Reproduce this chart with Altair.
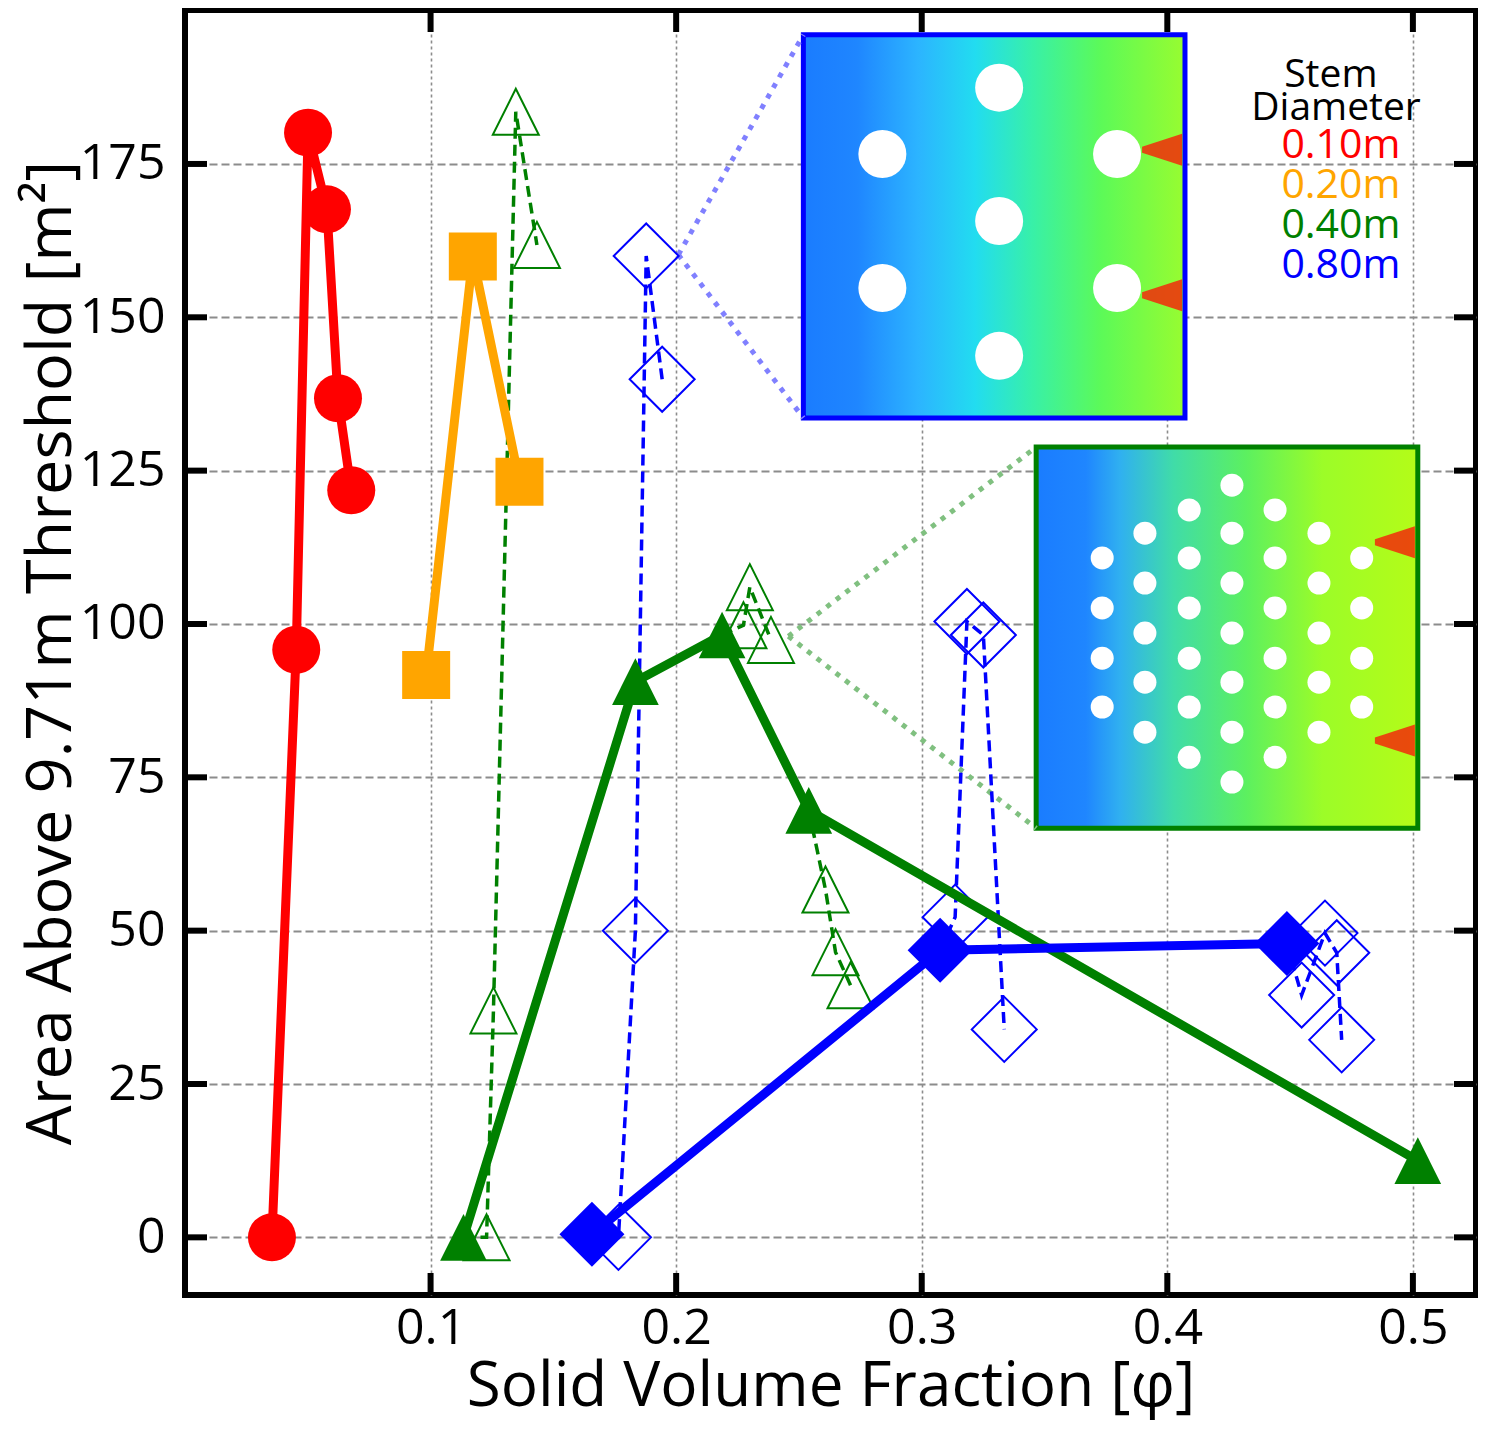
import altair as alt
import pandas as pd

# ---------------- axes ----------------
x_ticks = [0.1, 0.2, 0.3, 0.4, 0.5]
y_ticks = [0, 25, 50, 75, 100, 125, 150, 175]
X_DOMAIN = [0.0, 0.5257]
Y_DOMAIN = [-9.4, 200.1]

diameters = ["0.10m", "0.20m", "0.40m", "0.80m"]
colors = ["#ff0000", "#ffa500", "#008000", "#0000ff"]

# ---------------- main (filled) series ----------------
red_x = [0.0354, 0.0453, 0.0501, 0.0578, 0.0623, 0.0677]
red_y = [0.0, 95.8, 180.1, 167.6, 136.8, 121.8]
orange_x = [0.0982, 0.1172, 0.1362]
orange_y = [91.7, 159.9, 123.2]
green_x = [0.1134, 0.1834, 0.2187, 0.2540, 0.5020]
green_y = [0.0, 90.6, 98.2, 69.6, 12.5]
blue_x = [0.1657, 0.3075, 0.4487]
blue_y = [0.5, 46.8, 47.9]

# ---------------- variants (open markers, dashed) ----------------
green_var_group = [0, 0, 0, 0, 1, 1, 1, 2, 2, 2]
green_var_x = [0.1228, 0.1256, 0.1347, 0.1433, 0.2274, 0.2300, 0.2386, 0.2608, 0.2649, 0.2710]
green_var_y = [0.0, 37.0, 183.5, 161.8, 99.8, 106.0, 97.4, 56.7, 46.5, 41.1]
green_anchor_idx = [0, 2, 3]

blue_var_group = [0, 0, 0, 0, 1, 1, 1, 1, 2, 2, 2, 2]
blue_var_x = [0.1765, 0.1834, 0.1878, 0.1943, 0.3136, 0.3184, 0.3251, 0.3336, 0.4547, 0.4642, 0.4690, 0.4710]
blue_var_y = [0.0, 50.0, 160.0, 139.9, 52.2, 100.4, 98.2, 33.9, 39.5, 49.6, 46.4, 32.2]
blue_anchor_idx = [0, 1, 2]

# ---------------- inset pictures (approximation) ----------------
blue_inset_x = [0.2518, 0.4072]
blue_inset_y = [133.6, 196.05]
green_inset_x = [0.3466, 0.5020]
green_inset_y = [66.7, 128.85]
blue_stem_fx = [0.513, 0.207, 0.822, 0.513, 0.207, 0.822, 0.513]
blue_stem_fy = [0.138, 0.311, 0.311, 0.486, 0.661, 0.661, 0.838]
blue_wake_fx = [0.94, 0.94]
blue_wake_fy = [0.30, 0.68]
green_col_fx = [0.173, 0.285, 0.401, 0.513, 0.626, 0.741, 0.853]
green_row_fy = [0.100, 0.165, 0.226, 0.291, 0.357, 0.422, 0.488, 0.554, 0.617, 0.682, 0.748, 0.814, 0.879]
green_stem_col = [0, 0, 0, 0, 1, 1, 1, 1, 1, 2, 2, 2, 2, 2, 2, 3, 3, 3, 3, 3, 3, 3,
                  4, 4, 4, 4, 4, 4, 5, 5, 5, 5, 5, 6, 6, 6, 6]
green_stem_row = [3, 5, 7, 9, 2, 4, 6, 8, 10, 1, 3, 5, 7, 9, 11, 0, 2, 4, 6, 8, 10, 12,
                  1, 3, 5, 7, 9, 11, 2, 4, 6, 8, 10, 3, 5, 7, 9]
green_wake_fx = [0.94, 0.94]
green_wake_fy = [0.25, 0.77]

# dotted connectors: point on the data -> inset corners
blue_conn_start = (0.2009, 160.2)
green_conn_start = (0.2457, 98.0)

legend_head = ["Stem", "Diameter"]
legend_head_x = [0.4666, 0.4687]
legend_head_y = [187.6, 182.2]
legend_val_x = 0.4707
legend_val_y = [176.0, 169.5, 162.9, 156.4]

# ---------------- build tables ----------------
solid_rows = []
for d, (sx, sy) in zip(diameters, [(red_x, red_y), (orange_x, orange_y),
                                   (green_x, green_y), (blue_x, blue_y)]):
    for a, b in zip(sx, sy):
        solid_rows.append({"d": d, "x": a, "y": b})
solid = pd.DataFrame(solid_rows)

dash_rows, open_rows = [], []
for d, bx, by, anchors, grp, vx, vy in [
        ("0.40m", green_x, green_y, green_anchor_idx, green_var_group, green_var_x, green_var_y),
        ("0.80m", blue_x, blue_y, blue_anchor_idx, blue_var_group, blue_var_x, blue_var_y)]:
    for g, ai in enumerate(anchors):
        dash_rows.append({"d": d, "g": f"{d}-{g}", "x": bx[ai], "y": by[ai]})
    for g, a, b in zip(grp, vx, vy):
        dash_rows.append({"d": d, "g": f"{d}-{g}", "x": a, "y": b})
        open_rows.append({"d": d, "x": a, "y": b})
dashed = pd.DataFrame(dash_rows)
opened = pd.DataFrame(open_rows)

W, H = 1291, 1285
xs = alt.Scale(domain=X_DOMAIN, nice=False, zero=False)
ys = alt.Scale(domain=Y_DOMAIN, nice=False, zero=False)
cscale = alt.Scale(domain=diameters, range=colors)
TRI = "M0,-1L1,1L-1,1Z"
WEDGE = "M-1,-0.15L1,-0.8L1,0.8L-1,0.15Z"

x_axis = alt.Axis(values=x_ticks, format=".1f", title="Solid Volume Fraction [φ]",
                  grid=True, gridDash=[3, 3], gridColor="#8c8c8c", gridWidth=1.6,
                  domain=False, ticks=False, tickSize=0, labelPadding=8,
                  labelFontSize=50, titleFontSize=62, titleY=110,
                  titleBaseline="alphabetic")
y_axis = alt.Axis(values=y_ticks, title="Area Above 9.71m Threshold [m²]",
                  grid=True, gridDash=[8, 4], gridColor="#8c8c8c", gridWidth=2,
                  domain=False, ticks=False, tickSize=0, labelPadding=20,
                  labelFontSize=50, titleFontSize=63, titleX=-115, titleAngle=270,
                  titleBaseline="alphabetic", titleAlign="center")


def X(field="x"):
    return alt.X(f"{field}:Q", scale=xs, axis=x_axis)


def Y(field="y"):
    return alt.Y(f"{field}:Q", scale=ys, axis=y_axis)


def frac_to_data(ix, iy, fx, fy):
    return pd.DataFrame({
        "x": [ix[0] + f * (ix[1] - ix[0]) for f in fx],
        "y": [iy[1] - f * (iy[1] - iy[0]) for f in fy],
    })


layers = []


def inset_layer(ix, iy, stops, stroke, fx, fy, stem_size, wx, wy, wake_size):
    rect_df = pd.DataFrame({"x1": [ix[0]], "x2": [ix[1]], "y1": [iy[0]], "y2": [iy[1]]})
    grad = alt.Gradient(gradient="linear",
                        stops=[alt.GradientStop(color=c, offset=o) for o, c in stops],
                        x1=0, x2=1, y1=0, y2=0)
    rect = alt.Chart(rect_df).mark_rect(fill=grad, stroke=stroke, strokeWidth=5).encode(
        x=X("x1"), x2="x2:Q", y=Y("y1"), y2="y2:Q")
    wakes = alt.Chart(frac_to_data(ix, iy, wx, wy)).mark_point(
        shape=WEDGE, filled=True, color="#f22a0a", opacity=0.85, size=wake_size).encode(x=X(), y=Y())
    pts = alt.Chart(frac_to_data(ix, iy, fx, fy)).mark_point(
        shape="circle", filled=True, color="white", opacity=1, size=stem_size).encode(x=X(), y=Y())
    return [rect, wakes, pts]


layers += inset_layer(blue_inset_x, blue_inset_y,
                      [(0, "#1a7cff"), (0.14, "#1f86ff"), (0.3, "#2cb4ff"), (0.45, "#22dcf0"),
                       (0.6, "#38f0a8"), (0.78, "#5cfa58"), (1, "#98fc30")],
                      "#0000ff", blue_stem_fx, blue_stem_fy, 2304,
                      blue_wake_fx, blue_wake_fy, 1600)
layers += inset_layer(green_inset_x, green_inset_y,
                      [(0, "#1a7cff"), (0.13, "#1f86ff"), (0.22, "#30b0f0"), (0.36, "#40dca8"),
                       (0.55, "#5cf060"), (0.75, "#9cfc28"), (1, "#b4fc18")],
                      "#008000",
                      [green_col_fx[c] for c in green_stem_col],
                      [green_row_fy[r] for r in green_stem_row], 529,
                      green_wake_fx, green_wake_fy, 1600)

# dotted connectors
for start, ix, iy, col in [(blue_conn_start, blue_inset_x, blue_inset_y, "#8080ff"),
                           (green_conn_start, green_inset_x, green_inset_y, "#80c080")]:
    conn = pd.DataFrame({"id": ["a", "a", "b", "b"],
                         "x": [start[0], ix[0], start[0], ix[0]],
                         "y": [start[1], iy[1], start[1], iy[0]]})
    layers.append(alt.Chart(conn).mark_line(color=col, strokeWidth=5, strokeDash=[5, 7]).encode(
        x=X(), y=Y(), detail="id:N"))

# dashed variant lines
layers.append(alt.Chart(dashed).mark_line(strokeWidth=3.5, strokeDash=[11, 6]).encode(
    x=X(), y=Y(), detail="g:N", color=alt.Color("d:N", scale=cscale, legend=None)))

# open markers
layers.append(alt.Chart(opened[opened.d == "0.40m"]).mark_point(
    shape=TRI, size=2116, filled=False, strokeWidth=2, color="#008000", opacity=1).encode(x=X(), y=Y()))
layers.append(alt.Chart(opened[opened.d == "0.80m"]).mark_point(
    shape="diamond", size=4225, filled=False, strokeWidth=2, color="#0000ff", opacity=1).encode(x=X(), y=Y()))

# solid lines
layers.append(alt.Chart(solid).mark_line(strokeWidth=9).encode(
    x=X(), y=Y(), color=alt.Color("d:N", scale=cscale, legend=None)))

# filled markers
for d, shape, size in [("0.10m", "circle", 2304), ("0.20m", "square", 2304),
                       ("0.40m", TRI, 2180), ("0.80m", "diamond", 4225)]:
    layers.append(alt.Chart(solid[solid.d == d]).mark_point(
        shape=shape, size=size, filled=True, opacity=1).encode(
        x=X(), y=Y(), color=alt.Color("d:N", scale=cscale, legend=None)))

# legend text
head_df = pd.DataFrame({"t": legend_head, "x": legend_head_x, "y": legend_head_y})
layers.append(alt.Chart(head_df).mark_text(font="Open Sans", fontSize=39, align="center",
                                           baseline="alphabetic", color="black").encode(
    x=X(), y=Y(), text="t:N"))
val_df = pd.DataFrame({"d": diameters, "x": [legend_val_x] * 4, "y": legend_val_y})
layers.append(alt.Chart(val_df).mark_text(font="Open Sans", fontSize=41, align="center",
                                          baseline="alphabetic").encode(
    x=X(), y=Y(), text="d:N", color=alt.Color("d:N", scale=cscale, legend=None)))

# inward ticks on all four sides
TL = 22
ydf = pd.DataFrame({"y": y_ticks})
xdf = pd.DataFrame({"x": x_ticks})
layers.append(alt.Chart(ydf).mark_rule(color="black", strokeWidth=6).encode(
    y=Y(), x=alt.value(0), x2=alt.value(TL)))
layers.append(alt.Chart(ydf).mark_rule(color="black", strokeWidth=6).encode(
    y=Y(), x=alt.value(W), x2=alt.value(W - TL)))
layers.append(alt.Chart(xdf).mark_rule(color="black", strokeWidth=6).encode(
    x=X(), y=alt.value(H), y2=alt.value(H - TL)))
layers.append(alt.Chart(xdf).mark_rule(color="black", strokeWidth=6).encode(
    x=X(), y=alt.value(0), y2=alt.value(TL)))

chart = alt.layer(*layers).properties(
    width=W, height=H,
    autosize=alt.AutoSizeParams(type="none"),
    padding={"left": 177, "top": 2, "right": 2, "bottom": 125},
).configure_view(stroke="black", strokeWidth=6).configure_axis(
    labelFont="Open Sans", titleFont="Open Sans", labelColor="black",
    titleColor="black", titleFontWeight="normal")

chart.save("out.html", embed_options={"renderer": "svg", "actions": False})
